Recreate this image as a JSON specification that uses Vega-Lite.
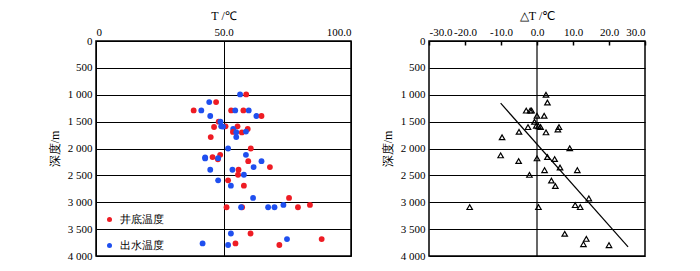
{
  "$schema": "https://vega.github.io/schema/vega-lite/v6.json",
  "padding": {"left": 47, "top": 8, "right": 5, "bottom": 5},
  "background": "white",
  "config": {
    "font": "Times New Roman, Liberation Serif, serif",
    "view": {"stroke": "black", "strokeWidth": 1.5},
    "axis": {
      "labelColor": "black", "titleColor": "black", "labelFontSize": 11, "titleFontSize": 12,
      "titleFontWeight": "normal", "domainColor": "black", "tickColor": "black",
      "gridColor": "black", "gridOpacity": 1, "gridWidth": 1, "labelOverlap": false,
      "labelFont": "Times New Roman, Liberation Serif, serif",
      "titleFont": "Times New Roman, Liberation Serif, serif"
    },
    "legend": {"labelFontSize": 11, "labelColor": "black", "labelFont": "Times New Roman, Liberation Serif, serif"}
  },
  "datasets": {
    "temps": [
      {"T": 56.5, "depth": 994, "type": "出水温度"}, {"T": 58.9, "depth": 994, "type": "井底温度"},
      {"T": 44.4, "depth": 1137, "type": "出水温度"}, {"T": 47.1, "depth": 1137, "type": "井底温度"},
      {"T": 38.3, "depth": 1291, "type": "井底温度"}, {"T": 41.3, "depth": 1291, "type": "出水温度"},
      {"T": 53.0, "depth": 1291, "type": "井底温度"}, {"T": 54.6, "depth": 1291, "type": "出水温度"},
      {"T": 57.8, "depth": 1291, "type": "井底温度"}, {"T": 59.9, "depth": 1291, "type": "出水温度"},
      {"T": 44.8, "depth": 1396, "type": "出水温度"},
      {"T": 62.9, "depth": 1396, "type": "出水温度"}, {"T": 64.9, "depth": 1396, "type": "井底温度"},
      {"T": 48.1, "depth": 1500, "type": "井底温度"}, {"T": 48.8, "depth": 1500, "type": "出水温度"},
      {"T": 46.3, "depth": 1600, "type": "井底温度"}, {"T": 50.8, "depth": 1587, "type": "井底温度"},
      {"T": 49.1, "depth": 1587, "type": "出水温度"}, {"T": 49.8, "depth": 1592, "type": "出水温度"},
      {"T": 55.5, "depth": 1587, "type": "井底温度"}, {"T": 53.8, "depth": 1637, "type": "出水温度"},
      {"T": 59.5, "depth": 1637, "type": "井底温度"}, {"T": 53.7, "depth": 1692, "type": "井底温度"},
      {"T": 55.0, "depth": 1698, "type": "出水温度"}, {"T": 57.2, "depth": 1700, "type": "井底温度"},
      {"T": 58.8, "depth": 1685, "type": "出水温度"},
      {"T": 45.0, "depth": 1788, "type": "井底温度"}, {"T": 55.0, "depth": 1788, "type": "出水温度"},
      {"T": 51.8, "depth": 2000, "type": "出水温度"}, {"T": 60.7, "depth": 2000, "type": "井底温度"},
      {"T": 42.8, "depth": 2165, "type": "出水温度"}, {"T": 42.8, "depth": 2185, "type": "出水温度"},
      {"T": 45.7, "depth": 2160, "type": "井底温度"}, {"T": 48.7, "depth": 2118, "type": "井底温度"},
      {"T": 47.8, "depth": 2200, "type": "井底温度"}, {"T": 47.9, "depth": 2180, "type": "出水温度"},
      {"T": 58.8, "depth": 2118, "type": "出水温度"}, {"T": 59.7, "depth": 2235, "type": "井底温度"},
      {"T": 64.9, "depth": 2235, "type": "出水温度"}, {"T": 61.8, "depth": 2346, "type": "出水温度"},
      {"T": 68.2, "depth": 2346, "type": "井底温度"},
      {"T": 44.8, "depth": 2396, "type": "出水温度"}, {"T": 53.5, "depth": 2396, "type": "出水温度"},
      {"T": 55.9, "depth": 2396, "type": "井底温度"}, {"T": 55.7, "depth": 2488, "type": "井底温度"},
      {"T": 58.0, "depth": 2488, "type": "出水温度"},
      {"T": 47.9, "depth": 2593, "type": "出水温度"}, {"T": 51.8, "depth": 2593, "type": "井底温度"},
      {"T": 52.9, "depth": 2692, "type": "出水温度"}, {"T": 58.0, "depth": 2692, "type": "井底温度"},
      {"T": 61.6, "depth": 2920, "type": "出水温度"}, {"T": 75.7, "depth": 2920, "type": "井底温度"},
      {"T": 51.2, "depth": 3093, "type": "井底温度"}, {"T": 57.3, "depth": 3093, "type": "井底温度"},
      {"T": 56.9, "depth": 3093, "type": "出水温度"}, {"T": 67.5, "depth": 3093, "type": "出水温度"},
      {"T": 70.0, "depth": 3093, "type": "出水温度"}, {"T": 73.5, "depth": 3050, "type": "出水温度"},
      {"T": 79.2, "depth": 3093, "type": "井底温度"}, {"T": 83.9, "depth": 3050, "type": "井底温度"},
      {"T": 52.9, "depth": 3581, "type": "出水温度"}, {"T": 60.6, "depth": 3581, "type": "井底温度"},
      {"T": 74.9, "depth": 3685, "type": "出水温度"}, {"T": 88.5, "depth": 3685, "type": "井底温度"},
      {"T": 41.8, "depth": 3766, "type": "出水温度"}, {"T": 51.8, "depth": 3796, "type": "出水温度"},
      {"T": 54.7, "depth": 3766, "type": "井底温度"}, {"T": 71.9, "depth": 3796, "type": "井底温度"}
    ],
    "dT": [
      {"dT": 2.5, "depth": 1000}, {"dT": 2.9, "depth": 1145},
      {"dT": -3.0, "depth": 1295}, {"dT": -1.9, "depth": 1295}, {"dT": -1.5, "depth": 1295},
      {"dT": 0.0, "depth": 1390}, {"dT": 2.0, "depth": 1390},
      {"dT": -0.7, "depth": 1502}, {"dT": -0.2, "depth": 1577}, {"dT": 0.4, "depth": 1585},
      {"dT": 1.0, "depth": 1600}, {"dT": -2.5, "depth": 1602},
      {"dT": 6.1, "depth": 1602}, {"dT": 5.8, "depth": 1645},
      {"dT": -5.0, "depth": 1690}, {"dT": 2.5, "depth": 1700}, {"dT": -9.7, "depth": 1790},
      {"dT": 9.1, "depth": 1996}, {"dT": -10.1, "depth": 2128}, {"dT": -5.1, "depth": 2234},
      {"dT": 0.0, "depth": 2184}, {"dT": 2.9, "depth": 2159}, {"dT": 4.9, "depth": 2197},
      {"dT": 2.1, "depth": 2403}, {"dT": 6.4, "depth": 2353}, {"dT": 11.2, "depth": 2403},
      {"dT": -2.1, "depth": 2491}, {"dT": 4.0, "depth": 2597}, {"dT": 5.1, "depth": 2697},
      {"dT": 14.4, "depth": 2929}, {"dT": -18.7, "depth": 3091}, {"dT": 0.4, "depth": 3091},
      {"dT": 10.6, "depth": 3054}, {"dT": 12.0, "depth": 3091},
      {"dT": 7.7, "depth": 3587}, {"dT": 13.7, "depth": 3681}, {"dT": 12.9, "depth": 3780},
      {"dT": 20.0, "depth": 3799}
    ],
    "fit": [
      {"dT": -10.1, "depth": 1157}, {"dT": 25.3, "depth": 3831}
    ],
    "zero": [{"dT": 0}]
  },
  "spacing": 28,
  "hconcat": [
    {
      "width": 255, "height": 215,
      "data": {"name": "temps"},
      "mark": {"type": "circle", "size": 34, "opacity": 1},
      "encoding": {
        "x": {"field": "T", "type": "quantitative",
          "scale": {"domain": [0, 100], "nice": false, "zero": false},
          "axis": {"orient": "top", "values": [0, 50, 100], "title": "T /℃", "grid": true, "ticks": false, "domain": false,
            "labelPadding": 4, "titlePadding": 4,
            "labelExpr": "datum.value == 0 ? '0' : format(datum.value, '.1f')"}},
        "y": {"field": "depth", "type": "quantitative",
          "scale": {"domain": [0, 4000], "reverse": true, "nice": false, "zero": false},
          "axis": {"values": [0, 500, 1000, 1500, 2000, 2500, 3000, 3500, 4000], "title": "深度/m", "grid": true, "ticks": false, "domain": false,
            "labelPadding": 4, "titlePadding": 6,
            "labelExpr": "datum.value < 1000 ? datum.value + '' : floor(datum.value / 1000) + ' ' + format(datum.value % 1000, '03d')"}},
        "color": {"field": "type", "type": "nominal",
          "scale": {"domain": ["井底温度", "出水温度"], "range": ["#ee1c24", "#1f4fef"]},
          "legend": {"title": null, "orient": "none", "legendX": 8, "legendY": 173, "rowPadding": 14,
            "symbolType": "circle", "symbolSize": 25, "symbolOpacity": 1, "labelOffset": 5}}
      }
    },
    {
      "width": 216, "height": 215,
      "encoding": {
        "x": {"field": "dT", "type": "quantitative",
          "scale": {"domain": [-30, 30], "nice": false, "zero": false},
          "axis": {"orient": "top", "values": [-30, -20, -10, 0, 10, 20, 30], "title": "△T /℃", "grid": false, "domain": false,
            "tickSize": -4, "tickWidth": 1.5, "labelPadding": 8, "titlePadding": 4, "labelOverlap": false,
            "labelExpr": "datum.value < 0 ? '-' + format(-datum.value, '.1f') : format(datum.value, '.1f')"}}
      },
      "layer": [
        {
          "data": {"name": "zero"},
          "mark": {"type": "rule", "color": "black", "strokeWidth": 1.2}
        },
        {
          "data": {"name": "dT"},
          "mark": {"type": "point", "shape": "triangle-up", "filled": false, "stroke": "black", "strokeWidth": 1.2, "size": 30, "opacity": 1},
          "encoding": {
            "y": {"field": "depth", "type": "quantitative",
              "scale": {"domain": [0, 4000], "reverse": true, "nice": false, "zero": false},
              "axis": {"values": [0, 500, 1000, 1500, 2000, 2500, 3000, 3500, 4000], "title": "深度/m", "grid": true, "ticks": false, "domain": false,
                "labelPadding": 4, "titlePadding": 6, "labelOverlap": false,
                "labelExpr": "datum.value < 1000 ? datum.value + '' : floor(datum.value / 1000) + ' ' + format(datum.value % 1000, '03d')"}}
          }
        },
        {
          "data": {"name": "fit"},
          "mark": {"type": "line", "color": "black", "strokeWidth": 1.2},
          "encoding": {
            "y": {"field": "depth", "type": "quantitative",
              "scale": {"domain": [0, 4000], "reverse": true, "nice": false, "zero": false},
              "axis": {"values": [0, 500, 1000, 1500, 2000, 2500, 3000, 3500, 4000], "title": "深度/m", "grid": true, "ticks": false, "domain": false,
                "labelPadding": 4, "titlePadding": 6, "labelOverlap": false,
                "labelExpr": "datum.value < 1000 ? datum.value + '' : floor(datum.value / 1000) + ' ' + format(datum.value % 1000, '03d')"}}
          }
        }
      ]
    }
  ]
}
